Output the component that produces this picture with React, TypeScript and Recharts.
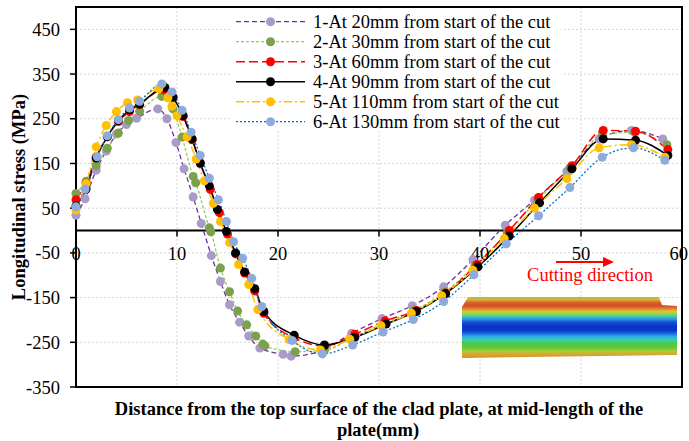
import React from 'react';
import { LineChart, Line, XAxis, YAxis, CartesianGrid, ReferenceLine, ReferenceArea, ReferenceDot } from 'recharts';

const FONT = '"Liberation Serif", "Times New Roman", Times, serif';

// ---- data ----
const xTicks = [0, 10, 20, 30, 40, 50, 60];
const yTicks = [-350, -250, -150, -50, 50, 150, 250, 350, 450];
const gridX = [10, 20, 30, 40, 50];
const gridY = [-250, -150, -50, 50, 150, 250, 350, 450];

const seriesNames = [
  '1-At 20mm from start of the cut',
  '2-At 30mm from start of the cut',
  '3-At 60mm from start of the cut',
  '4-At 90mm from start of the cut',
  '5-At 110mm from start of the cut',
  '6-At 130mm from start of the cut',
];

const s1x = [0, 0.9, 2.0, 3.0, 4.0, 5.0, 6.0, 8.1, 9.0, 9.9, 10.7, 11.6, 12.4, 13.4, 14.3, 15.2, 16.2, 17.1, 18.2, 20.5, 21.3, 24.4, 27.3, 30.3, 33.3, 36.4, 39.3, 42.5, 45.4, 48.6, 51.8, 55.0, 58.1];
const s1y = [34, 71, 135, 178, 216, 237, 251, 272, 250, 197, 138, 75, 16, -56, -114, -166, -205, -236, -263, -277, -281, -268, -230, -197, -168, -126, -65, 12, 68, 132, 205, 224, 205];

const s2x = [0, 1.0, 2.0, 3.1, 4.2, 5.2, 6.3, 8.5, 9.6, 10.5, 11.6, 11.85, 13.2, 13.35, 14.3, 15.2, 16.0, 16.9, 17.8, 18.5, 18.7, 21.7, 24.6, 27.5, 30.5, 33.5, 36.5, 39.5, 42.7, 45.7, 48.9, 52.1, 55.3, 58.5];
const s2y = [83, 110, 145, 184, 218, 246, 267, 300, 272, 209, 121, 107, 6, -3, -84, -137, -180, -211, -236, -254, -258, -271, -268, -238, -207, -178, -138, -78, -5, 68, 140, 213, 220, 192];

const s3x = [0, 1.0, 2.0, 3.1, 4.2, 5.3, 6.3, 8.7, 9.6, 10.6, 11.5, 12.3, 13.3, 14.2, 15.0, 15.8, 16.7, 17.7, 18.6, 21.6, 24.6, 27.6, 30.6, 33.7, 36.6, 39.7, 42.9, 45.8, 49.1, 52.2, 55.4, 58.6];
const s3y = [69, 106, 164, 210, 244, 266, 282, 315, 298, 255, 203, 150, 92, 40, -8, -52, -95, -135, -185, -240, -258, -232, -202, -179, -140, -76, 0, 74, 145, 224, 222, 181];

const s4x = [0, 1.0, 2.0, 3.1, 4.2, 5.3, 6.3, 8.8, 9.6, 10.6, 11.5, 12.3, 13.2, 14.0, 14.9, 15.8, 16.7, 17.7, 18.6, 21.6, 24.6, 27.6, 30.7, 33.7, 36.6, 39.8, 42.9, 45.9, 49.1, 52.2, 55.4, 58.6];
const s4y = [55, 93, 162, 210, 246, 270, 283, 320, 298, 257, 205, 151, 100, 47, -2, -50, -93, -130, -181, -234, -256, -239, -209, -181, -141, -81, -12, 62, 138, 205, 202, 168];

const s5x = [0, 1.0, 2.0, 3.0, 4.0, 5.1, 6.1, 8.2, 9.1, 9.5, 10.0, 11.0, 11.9, 12.7, 13.6, 14.3, 15.2, 16.1, 17.1, 18.0, 21.1, 24.2, 27.1, 30.2, 33.2, 36.2, 39.3, 42.4, 45.4, 48.6, 51.8, 55.0, 58.3];
const s5y = [46, 105, 187, 235, 266, 286, 292, 317, 297, 278, 257, 209, 160, 111, 61, 20, -27, -76, -121, -177, -244, -267, -243, -213, -185, -146, -89, -18, 50, 116, 185, 192, 164];

const s6x = [0, 0.9, 2.1, 3.1, 4.2, 5.3, 6.3, 8.5, 9.5, 10.5, 11.4, 12.3, 13.2, 14.1, 14.9, 15.6, 16.5, 17.4, 18.4, 21.4, 24.4, 27.4, 30.4, 33.4, 36.4, 39.4, 42.6, 45.8, 48.9, 52.1, 55.2, 58.3];
const s6y = [53, 93, 165, 212, 248, 274, 289, 328, 310, 269, 220, 168, 117, 69, 20, -25, -62, -107, -170, -246, -276, -256, -227, -199, -159, -99, -30, 33, 96, 164, 185, 157];

const build = (xs: number[], ys: number[]) => xs.map((x, i) => ({ x, v: ys[i] }));

// ---- styles ----
const styles = [
  { line: '#7030A0', marker: '#A99BC9', dash: '5 3', width: 1.3 },
  { line: '#92D050', marker: '#7BA14B', dash: '3 2', width: 1.3 },
  { line: '#FF0000', marker: '#FF0000', dash: '9 4', width: 1.5 },
  { line: '#000000', marker: '#000000', dash: undefined, width: 1.5 },
  { line: '#FFC000', marker: '#FFC000', dash: '8 3 2 3', width: 1.5 },
  { line: '#0070C0', marker: '#8FAADC', dash: '2 2', width: 1.3 },
];

const seriesData = [build(s1x, s1y), build(s2x, s2y), build(s3x, s3y), build(s4x, s4y), build(s5x, s5y), build(s6x, s6y)];

const FS = 18.5;
const lastTick = xTicks[xTicks.length - 1];

export default function App() {
  return (
    <div style={{ position: 'absolute', left: 0, top: 0, width: 689, height: 441, background: '#fff', fontFamily: FONT }}>
      <LineChart width={689} height={441} margin={{ top: 7, right: 7, left: 0, bottom: 54 }}>
        <CartesianGrid
          stroke="#d4d4d4"
          strokeDasharray="2 2"
          horizontalValues={gridY}
          verticalValues={gridX}
        />
        <XAxis dataKey="x" type="number" domain={[0, 60]} ticks={xTicks} hide />
        <YAxis
          type="number"
          domain={[-350, 500]}
          ticks={yTicks}
          width={76}
          interval={0}
          axisLine={{ stroke: '#000', strokeWidth: 2 }}
          tickLine={{ stroke: '#000', strokeWidth: 1.5 }}
          tickSize={6}
          tickMargin={10}
          tick={{ fill: '#000', fontSize: FS, fontFamily: FONT }}
        />
        <ReferenceArea x1={0} x2={60} y1={-350} y2={500} fill="none" stroke="#000" strokeWidth={2} />
        <ReferenceLine y={0} stroke="#000" strokeWidth={2} />
        {xTicks.map((t) => (
          <ReferenceDot
            key={'xt' + t}
            x={t}
            y={0}
            r={1}
            shape={(p: any) => (
              <g>
                <line x1={p.cx} x2={p.cx} y1={p.cy} y2={p.cy + 6} stroke="#000" strokeWidth={1.5} />
                <text
                  x={t === lastTick ? Math.min(p.cx + 9, 688) : p.cx}
                  y={p.cy + 29.5}
                  textAnchor={t === lastTick ? 'end' : 'middle'}
                  fontSize={FS}
                  fontFamily={FONT}
                  fill="#000"
                >
                  {t}
                </text>
              </g>
            )}
          />
        ))}
        {seriesData.map((d, i) => (
          <Line
            key={'s' + i}
            data={d}
            dataKey="v"
            name={seriesNames[i]}
            type="monotone"
            stroke={styles[i].line}
            strokeWidth={styles[i].width}
            strokeDasharray={styles[i].dash}
            dot={{ r: 4.5, fill: styles[i].marker, stroke: styles[i].marker, strokeWidth: 0 }}
            activeDot={false}
            isAnimationActive={false}
          />
        ))}
      </LineChart>

      {/* contour picture */}
      <div
        style={{
          position: 'absolute',
          left: 462,
          top: 297,
          width: 215,
          height: 63,
          clipPath: 'polygon(0 10px, 6px 0, 197px 0, 200px 8px, 215px 9px, 215px 58px, 0 61px)',
          background:
            'linear-gradient(to bottom, #86d040 0%, #e0b030 4%, #d8602a 9%, #d84a26 14%, #e08a2c 19%, #d8c838 23%, #90d848 27%, #40c8b0 31%, #2a98e8 35%, #1450d8 40%, #0a34c4 47%, #0a38c8 53%, #1a6ae0 58%, #2cb0e8 63%, #38d0a0 68%, #4cc848 74%, #60c838 80%, #a8cc38 86%, #d8a830 91%, #d89030 96%, #d87a2c 100%)',
        }}
      />

      <svg width={689} height={441} style={{ position: 'absolute', left: 0, top: 0, pointerEvents: 'none' }}>
        {/* legend */}
        <rect x={231} y={9} width={330} height={122} fill="#fff" />
        {seriesNames.map((n, i) => {
          const y = 21.7 + 20 * i;
          return (
            <g key={'lg' + i}>
              <line x1={236} x2={305} y1={y} y2={y} stroke={styles[i].line} strokeWidth={styles[i].width} strokeDasharray={styles[i].dash} />
              <circle cx={270.5} cy={y} r={4.5} fill={styles[i].marker} />
              <text x={313} y={y} dominantBaseline="central" fontSize={FS} fontFamily={FONT} fill="#000">
                {n}
              </text>
            </g>
          );
        })}
        {/* axis titles */}
        <text
          x={19}
          y={197}
          transform="rotate(-90 19 197)"
          textAnchor="middle"
          dominantBaseline="central"
          fontSize={FS}
          fontWeight="bold"
          fontFamily={FONT}
          fill="#000"
        >
          Longitudinal stress (MPa)
        </text>
        <text x={379} y={415} textAnchor="middle" fontSize={FS} fontWeight="bold" fontFamily={FONT} fill="#000">
          Distance from the top surface of the clad plate, at mid-length of the
        </text>
        <text x={378} y={436} textAnchor="middle" fontSize={FS} fontWeight="bold" fontFamily={FONT} fill="#000">
          plate(mm)
        </text>
        {/* cutting direction annotation */}
        <line x1={556} x2={606} y1={262} y2={262} stroke="#FF0000" strokeWidth={2} />
        <polygon points="614,262 603,257 603,267" fill="#FF0000" />
        <text x={590} y={281} textAnchor="middle" fontSize={FS} fontFamily={FONT} fill="#FF0000">
          Cutting direction
        </text>
      </svg>
    </div>
  );
}
